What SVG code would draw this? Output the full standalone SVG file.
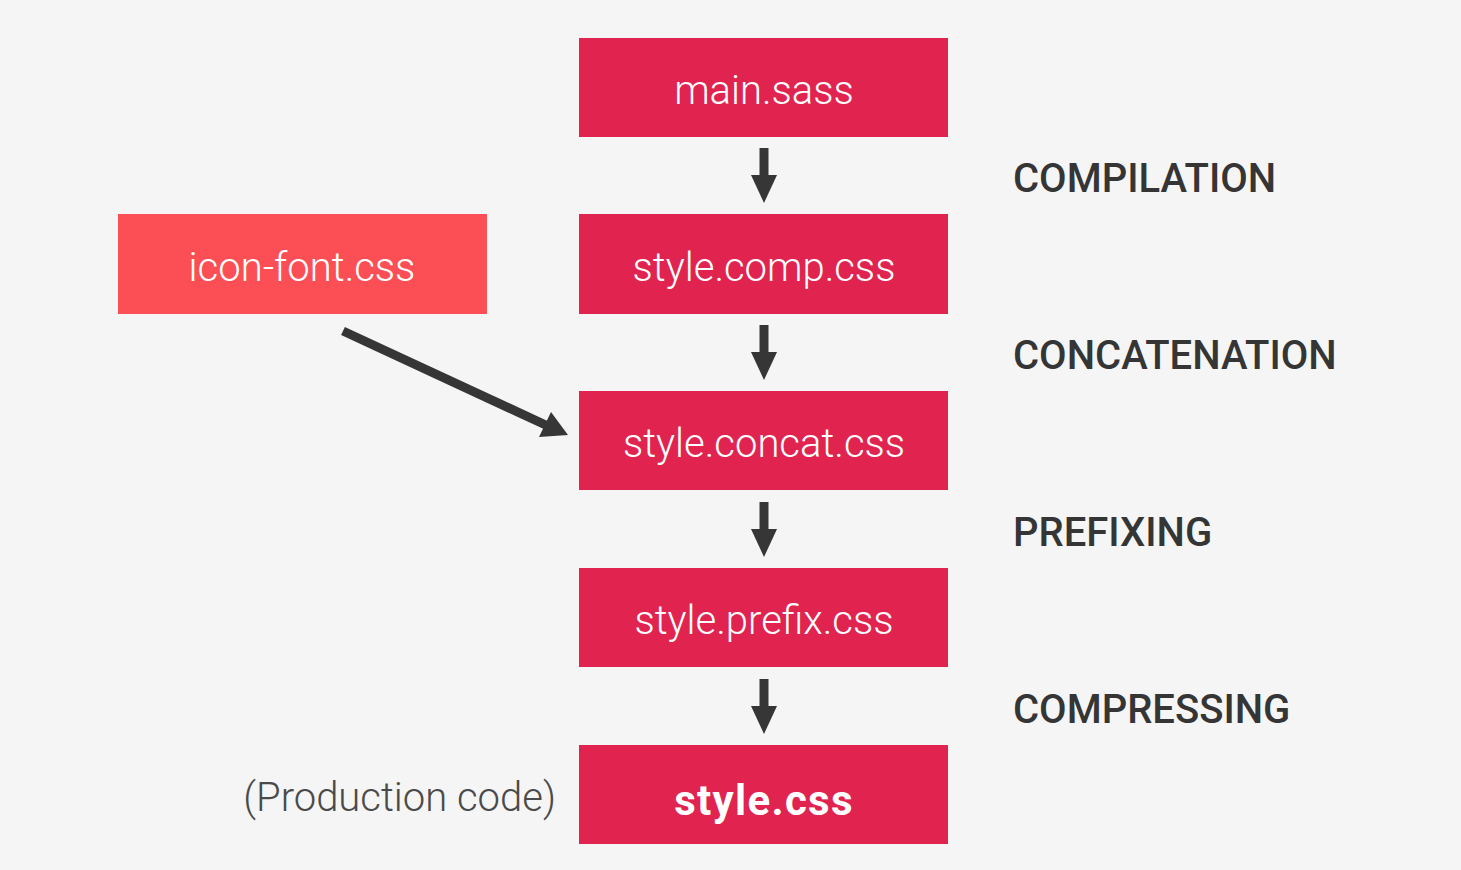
<svg xmlns="http://www.w3.org/2000/svg" width="1461" height="870" viewBox="0 0 1461 870">
<defs>
<style>
.box{fill:#e1234f}
.box2{fill:#fc4f55}
.t{font-family:Roboto,"Liberation Sans",sans-serif;font-weight:300;font-size:40px;fill:#ffffff;text-anchor:middle}
.tb{font-weight:700;font-size:42px;letter-spacing:1.3px}
.lab{font-family:Roboto,"Liberation Sans",sans-serif;font-weight:500;font-size:40px;fill:#353535}
.note{font-family:Roboto,"Liberation Sans",sans-serif;font-weight:300;font-size:40px;fill:#4a4a4a;text-anchor:end}
.shaft{stroke:#363636;stroke-width:9;fill:none}
.head{fill:#363636}
</style>
</defs>
<rect width="1461" height="870" fill="#f5f5f5"/>
<g id="main-sass"><rect class="box" x="579" y="38" width="369" height="99"/><text class="t" x="764" y="104">main.sass</text></g>
<g id="style-comp"><rect class="box" x="579" y="214" width="369" height="100"/><text class="t" x="764" y="281">style.comp.css</text></g>
<g id="icon-font"><rect class="box2" x="118" y="214" width="369" height="100"/><text class="t" x="302" y="281">icon-font.css</text></g>
<g id="style-concat"><rect class="box" x="579" y="391" width="369" height="99"/><text class="t" x="764" y="457">style.concat.css</text></g>
<g id="style-prefix"><rect class="box" x="579" y="568" width="369" height="99"/><text class="t" x="764" y="634">style.prefix.css</text></g>
<g id="style-css"><rect class="box" x="579" y="745" width="369" height="99"/><text class="t tb" x="764" y="815">style.css</text></g>
<g id="labels">
<text class="lab" x="1013" y="192">COMPILATION</text>
<text class="lab" x="1013" y="369">CONCATENATION</text>
<text class="lab" x="1013" y="546">PREFIXING</text>
<text class="lab" x="1013" y="723">COMPRESSING</text>
<text class="note" x="556" y="811">(Production code)</text>
</g>
<g id="connectors">
<line class="shaft" x1="764" y1="148" x2="764" y2="178"/><polygon class="head" points="751,175 777,175 764,203"/>
<line class="shaft" x1="764" y1="325" x2="764" y2="355"/><polygon class="head" points="751,352 777,352 764,380"/>
<line class="shaft" x1="764" y1="502" x2="764" y2="532"/><polygon class="head" points="751,529 777,529 764,557"/>
<line class="shaft" x1="764" y1="679" x2="764" y2="709"/><polygon class="head" points="751,706 777,706 764,734"/>
<line class="shaft" x1="343" y1="331" x2="550" y2="427"/><polygon class="head" points="551,412 539,437 568,435"/>
</g>
</svg>
